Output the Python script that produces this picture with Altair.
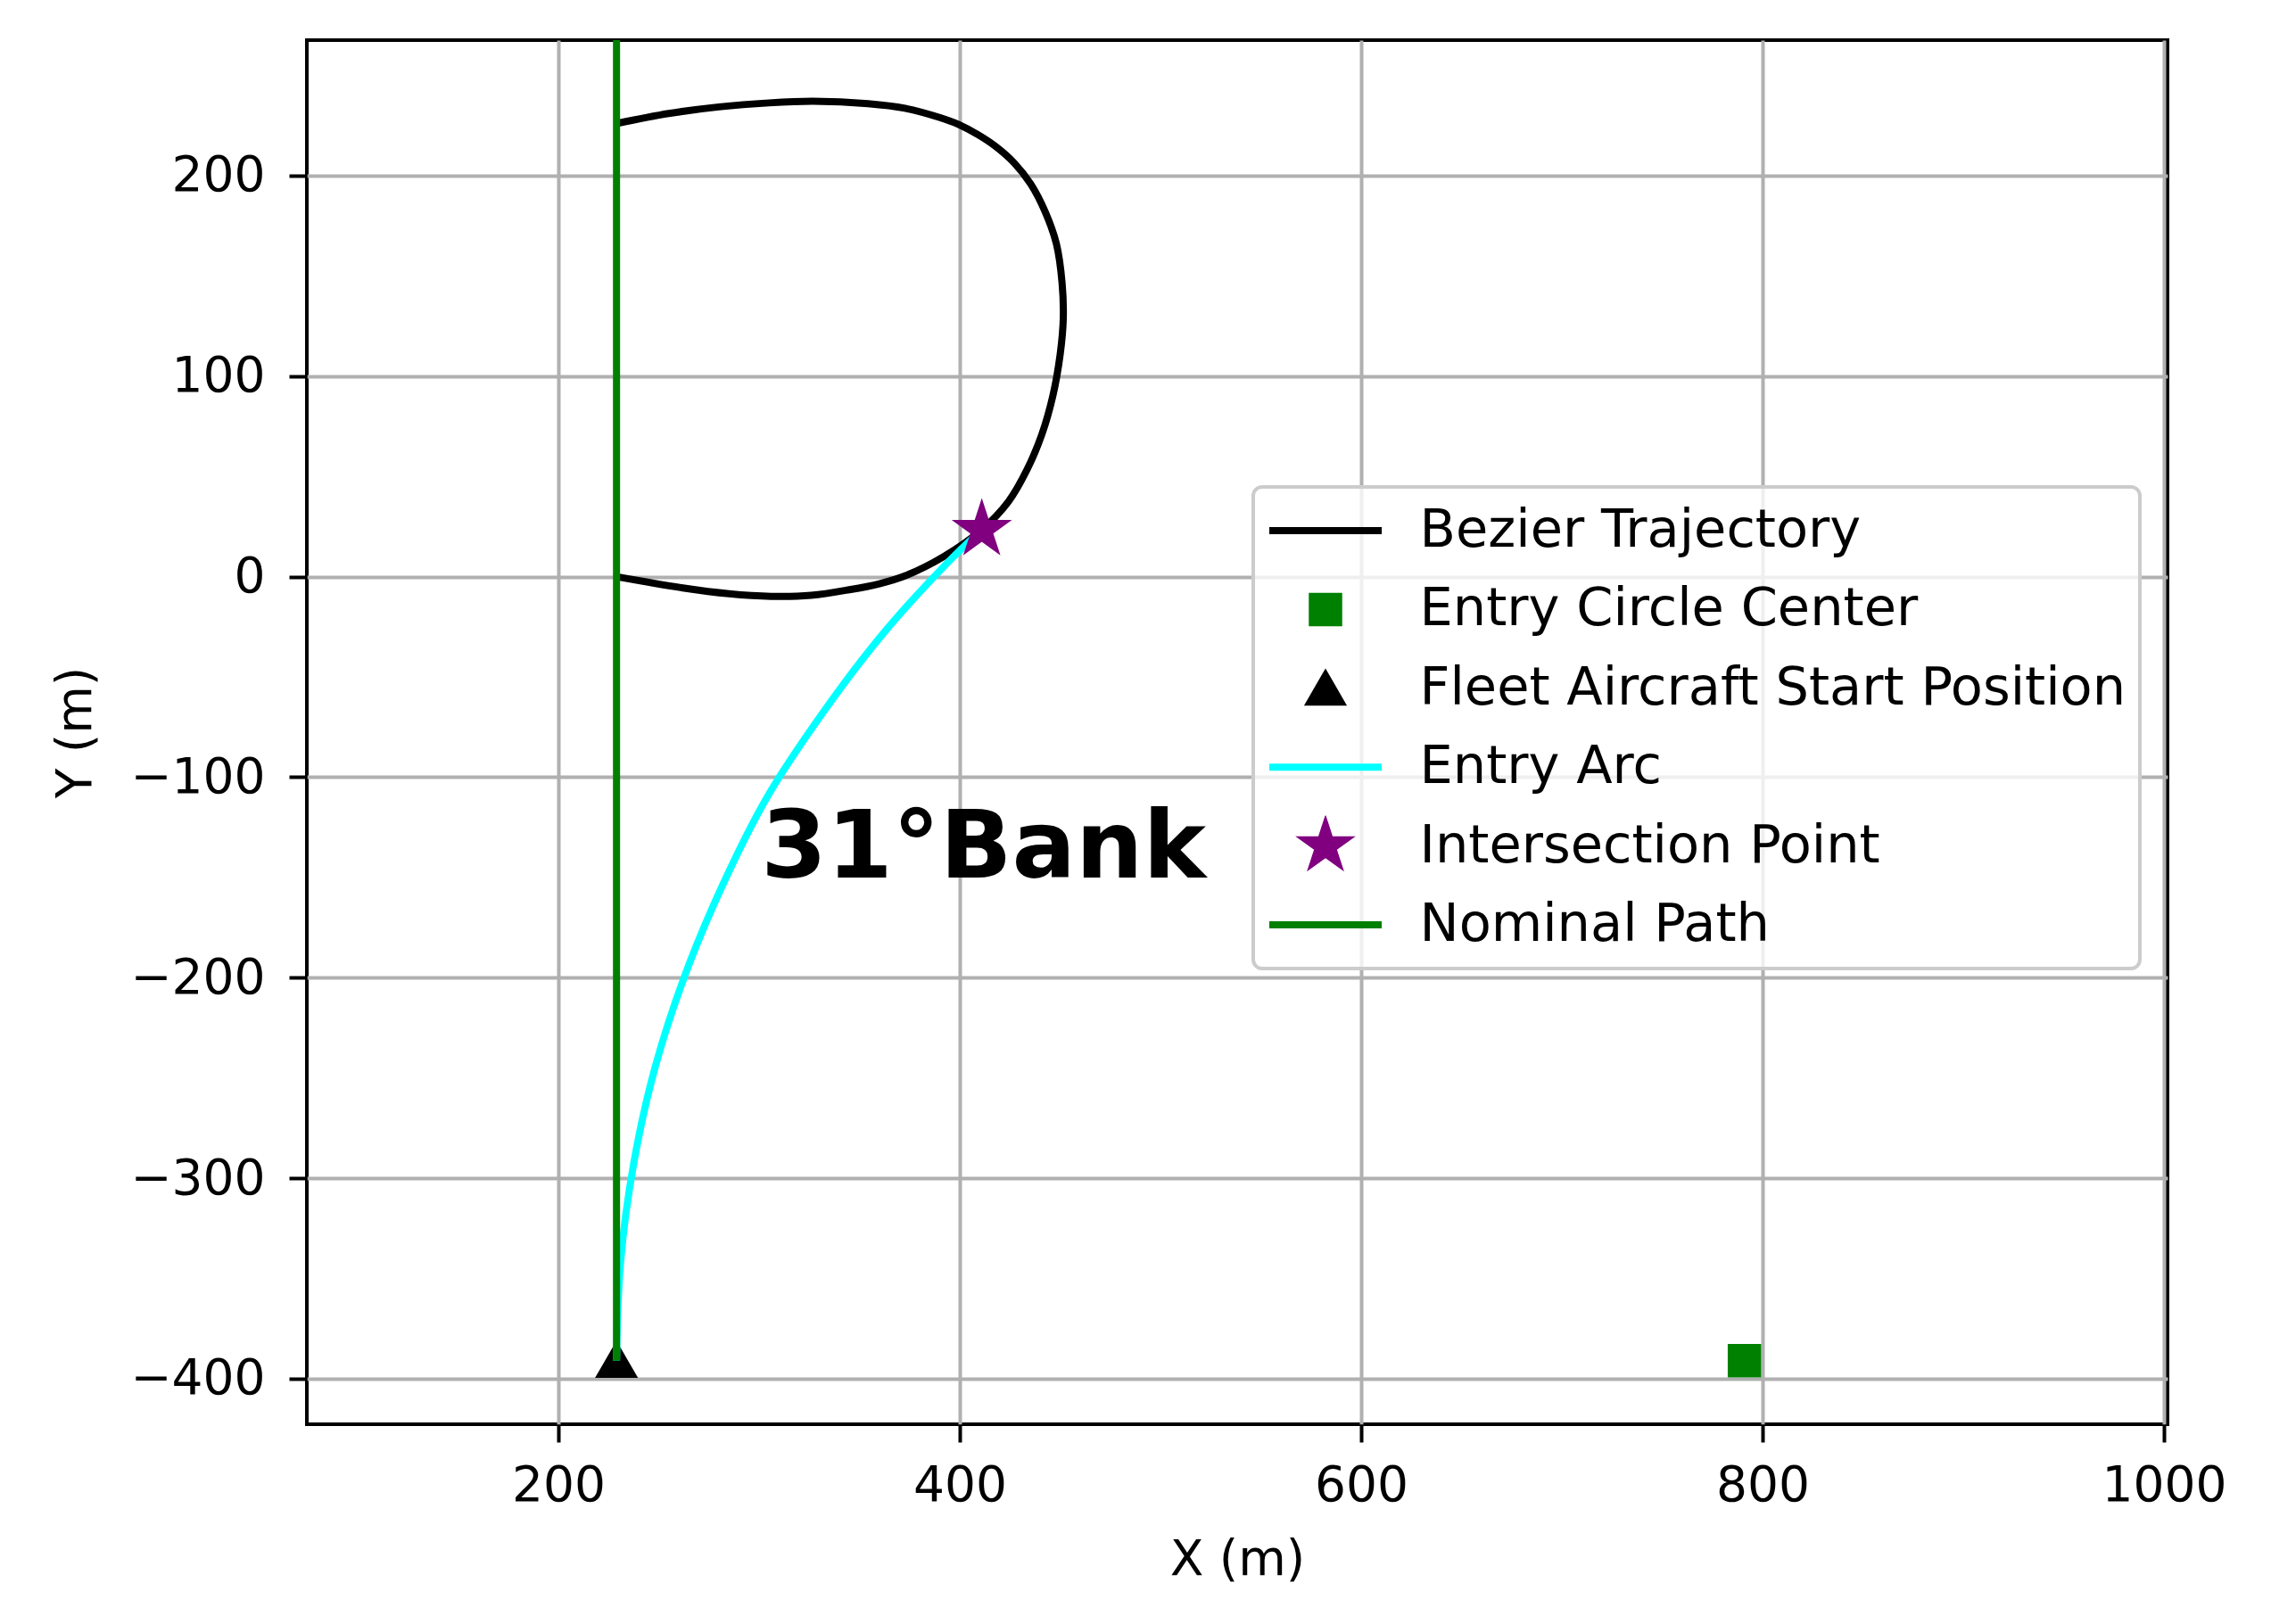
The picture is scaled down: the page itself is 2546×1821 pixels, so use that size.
import altair as alt
import pandas as pd

# ---------------- data ----------------
# Bezier trajectory, in drawing order (m)
bezier_x = [229, 262, 285, 306, 326, 345, 360, 373, 392, 411, 424.3, 433.5, 440.9, 446.4,
            450.1, 451.6, 451, 448.2, 442.7, 435.4, 427, 418, 409, 399.5, 390, 372.7,
            354.3, 327, 305, 280, 255, 229]
bezier_y = [0, -5.6, -8.5, -9.8, -9.3, -6.5, -3.5, 0.5, 10, 23.4, 37.5, 53.3, 70.9, 90.2,
            111.3, 128.9, 146.5, 165.9, 181.7, 195.8, 206.5, 214.5, 220.5, 225.5, 229, 233.6,
            235.9, 237.1, 236.3, 234.3, 231, 226]

# Entry arc (m)
arc_x = [229, 231, 237.5, 248, 263, 282, 304, 331, 360.5, 393.5, 411]
arc_y = [-391, -342, -293, -245.5, -199, -153.5, -110, -69, -30, 6.5, 23.4]

# Nominal path (m)
nominal_x = [229, 229]
nominal_y = [-391, 267.6]

# Single markers
marker_series = ["Entry Circle Center", "Fleet Aircraft Start Position"]
marker_x = [791, 229]
marker_y = [-391, -391]
star_series = ["Intersection Point"]
star_x = [411]
star_y = [23.4]

# Annotation
note_text = ["31°Bank"]
note_x = [301]
note_y = [-150]

# Legend entries
legend_labels = ["Bezier Trajectory", "Entry Circle Center", "Fleet Aircraft Start Position",
                 "Entry Arc", "Intersection Point", "Nominal Path"]
legend_colors = ["black", "green", "black", "cyan", "purple", "green"]

# Axes
x_ticks = [200, 400, 600, 800, 1000]
y_ticks = [-400, -300, -200, -100, 0, 100, 200]
x_domain = [74.7, 1001.8]
y_domain = [-422.7, 267.6]

# ---------------- styling ----------------
FONT = "DejaVu Sans"
LINE_SYM = "M-1.905,-0.032H1.905V0.032H-1.905Z"
SQUARE_SYM = "M-0.5,-0.5H0.5V0.5H-0.5Z"
TRI_SYM = "M0,-0.52L0.6,0.52L-0.6,0.52Z"
STAR_SYM = ("M0,-0.82L0.185,-0.253L0.78,-0.253L0.298,0.096L0.482,0.663L0,0.313"
            "L-0.482,0.663L-0.298,0.096L-0.78,-0.253L-0.185,-0.253Z")
legend_shapes = [LINE_SYM, SQUARE_SYM, TRI_SYM, LINE_SYM, STAR_SYM, LINE_SYM]
SYM_SIZE = 3969

xs = alt.Scale(domain=x_domain, nice=False, zero=False)
ys = alt.Scale(domain=y_domain, nice=False, zero=False)
X = alt.X("x:Q", scale=xs,
          axis=alt.Axis(values=x_ticks, title="X (m)", labelPadding=22, titlePadding=29,
                        format="d"))
Y = alt.Y("y:Q", scale=ys,
          axis=alt.Axis(values=y_ticks, title="Y (m)", labelPadding=27, titlePadding=32,
                        format="d"))

leg = alt.Legend(title=None, orient="none", legendX=1061, legendY=501, padding=15,
                 clipHeight=68, rowPadding=20.4, symbolSize=SYM_SIZE, symbolStrokeWidth=6,
                 symbolOffset=31.5, labelOffset=71, labelFont=FONT, labelFontSize=59,
                 labelColor="black", labelLimit=1200, fillColor="rgba(255,255,255,0.8)",
                 strokeColor="#cccccc", cornerRadius=10)


def line_layer(xv, yv, color):
    df = pd.DataFrame({"x": xv, "y": yv, "i": list(range(len(xv)))})
    return alt.Chart(df).mark_line(color=color, strokeWidth=8,
                                   interpolate="catmull-rom").encode(
        x=X, y=Y, order="i:Q")


def point_layer(series, xv, yv):
    df = pd.DataFrame({"series": series, "x": xv, "y": yv})
    return alt.Chart(df).mark_point(filled=True, size=SYM_SIZE, strokeWidth=6,
                                    opacity=1).encode(
        x=X, y=Y,
        fill=alt.Fill("series:N", scale=alt.Scale(domain=legend_labels, range=legend_colors),
                      legend=leg),
        stroke=alt.Stroke("series:N",
                          scale=alt.Scale(domain=legend_labels, range=legend_colors),
                          legend=leg),
        shape=alt.Shape("series:N", scale=alt.Scale(domain=legend_labels, range=legend_shapes),
                        legend=leg),
    )


bezier = line_layer(bezier_x, bezier_y, "black")
markers = point_layer(marker_series, marker_x, marker_y)
arc = line_layer(arc_x, arc_y, "cyan")
star = point_layer(star_series, star_x, star_y)
nominal = line_layer(nominal_x, nominal_y, "green")

note = alt.Chart(pd.DataFrame({"t": note_text, "x": note_x, "y": note_y})).mark_text(
    align="left", baseline="alphabetic", font=FONT, fontSize=106, fontWeight="bold",
    color="black").encode(x=X, y=Y, text="t:N")

chart = alt.layer(bezier, markers, arc, star, nominal, note).properties(
    width=2086, height=1552,
    autosize=alt.AutoSizeParams(type="none"),
    padding={"left": 336, "top": 37, "right": 100, "bottom": 220},
    background="white",
).configure_view(
    stroke="black", strokeWidth=4
).configure_axis(
    labelFont=FONT, labelFontSize=55, labelColor="black",
    titleFont=FONT, titleFontSize=55, titleColor="black", titleFontWeight="normal",
    tickColor="black", tickWidth=4, tickSize=20,
    grid=True, gridColor="#b0b0b0", gridWidth=4, domain=False,
).configure_legend(
    strokeWidth=4
)

chart.save("out.html", embed_options={"renderer": "svg", "actions": False})
